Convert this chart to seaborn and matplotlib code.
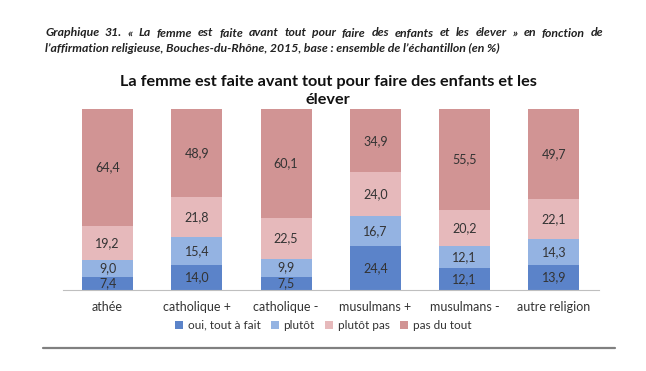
import numpy as np
import pandas as pd
import seaborn as sns
import matplotlib.pyplot as plt
from matplotlib.patches import Patch

# Data (en %)
categories = ["athée", "catholique +", "catholique -", "musulmans +", "musulmans -", "autre religion"]
oui_tout_a_fait = [7.4, 14.0, 7.5, 24.4, 12.1, 13.9]
plutot = [9.0, 15.4, 9.9, 16.7, 12.1, 14.3]
plutot_pas = [19.2, 21.8, 22.5, 24.0, 20.2, 22.1]
pas_du_tout = [64.4, 48.9, 60.1, 34.9, 55.5, 49.7]

series_names = ["oui, tout à fait", "plutôt", "plutôt pas", "pas du tout"]
colors = ["#5B83C9", "#94B3E2", "#E6B9BB", "#D19494"]

df = pd.DataFrame({
    "categorie": categories,
    series_names[0]: oui_tout_a_fait,
    series_names[1]: plutot,
    series_names[2]: plutot_pas,
    series_names[3]: pas_du_tout,
})
cum = df[series_names].cumsum(axis=1)

sns.set_style("white")
plt.rcParams['font.family'] = ['Lato', 'DejaVu Sans']

fig = plt.figure(figsize=(6.46, 3.71), dpi=100)
ax = fig.add_axes([0.0975, 0.218, 0.829, 0.488])

# stacked bars: draw cumulative totals from the top series down
for name, col in reversed(list(zip(series_names, colors))):
    sns.barplot(x=df["categorie"], y=cum[name], color=col, width=0.57,
                saturation=1, ax=ax, edgecolor="none")

# value labels in the middle of each segment
for i in range(len(categories)):
    prev = 0
    for name in series_names:
        v = df.loc[i, name]
        ax.text(i, prev + v / 2, f"{v:.1f}".replace(".", ","), ha="center",
                va="center", fontsize=9, color="#333333")
        prev += v

ax.set_ylim(0, 100)
ax.set_xlim(-0.5, 5.5)
ax.set_xlabel("")
ax.set_ylabel("")
ax.set_yticks([])
ax.tick_params(axis="x", length=0, pad=8, labelsize=9, labelcolor="#333333")
for s in ["top", "right", "left"]:
    ax.spines[s].set_visible(False)
ax.spines["bottom"].set_color("#BFBFBF")

handles = [Patch(facecolor=c, edgecolor="none") for c in colors]
fig.legend(handles, series_names, loc="center", bbox_to_anchor=(0.5, 0.123),
           ncol=4, frameon=False, fontsize=8.5, handlelength=0.7, handleheight=0.7,
           handletextpad=0.4, columnspacing=0.85, labelcolor="#333333")

fig.text(0.508, 1 - 91 / 371, "La femme est faite avant tout pour faire des enfants et les\nélever",
         ha="center", va="center", fontsize=11.7, fontweight="bold",
         linespacing=1.3, color="#111111")

# caption, first line justified between x=45 and x=603 px
cap = dict(fontsize=8.8, fontweight="bold", style="italic", color="#222222", va="center")
line1 = ("Graphique 31. « La femme est faite avant tout pour faire des enfants "
         "et les élever »  en fonction de").split()
renderer = fig.canvas.get_renderer()
W = fig.get_figwidth() * fig.dpi
x0, x1 = 45.0, 603.0
words = [fig.text(0, 1 - 33 / 371, w, ha="left", **cap) for w in line1]
widths = [t.get_window_extent(renderer).width for t in words]
gap = (x1 - x0 - sum(widths)) / (len(words) - 1)
x = x0
for t, w in zip(words, widths):
    t.set_x(x / W)
    x += w + gap
fig.text(45 / 646, 1 - 48 / 371,
         "l’affirmation religieuse, Bouches-du-Rhône, 2015, base : ensemble de l’échantillon (en %)",
         ha="left", **cap)

# horizontal rule under the chart
fig.add_artist(plt.Line2D([43 / 646, 615 / 646], [1 - 348 / 371, 1 - 348 / 371],
                          color="#808080", lw=1.6))

fig.savefig("out.png", dpi=100)
